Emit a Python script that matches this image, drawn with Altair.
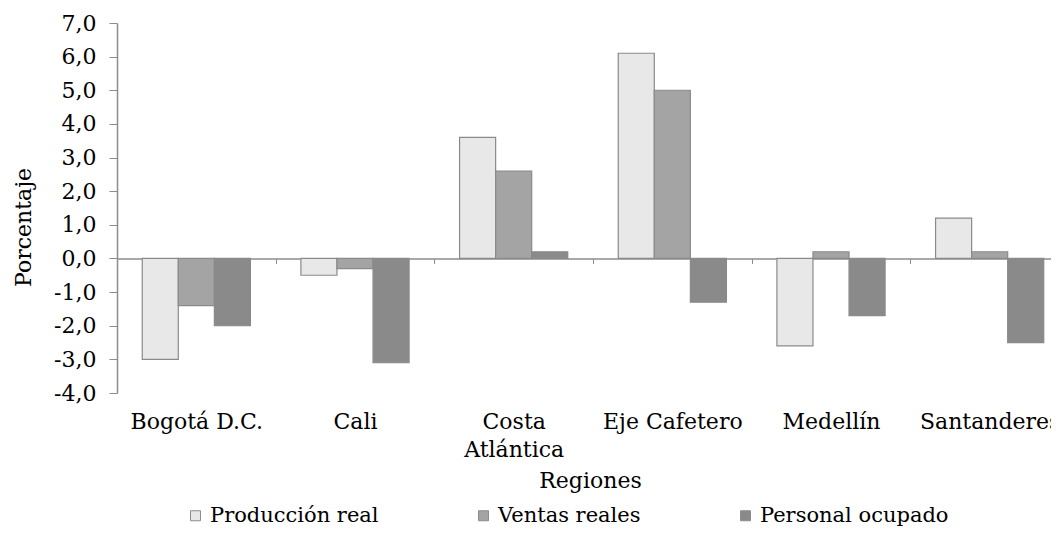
import altair as alt
import pandas as pd

regions = ["Bogotá D.C.", "Cali", "Costa Atlántica", "Eje Cafetero", "Medellín", "Santanderes"]
series = ["Producción real", "Ventas reales", "Personal ocupado"]
produccion_real = [-3.0, -0.5, 3.6, 6.1, -2.6, 1.2]
ventas_reales = [-1.4, -0.3, 2.6, 5.0, 0.2, 0.2]
personal_ocupado = [-2.0, -3.1, 0.2, -1.3, -1.7, -2.5]
y_ticks = [-4, -3, -2, -1, 0, 1, 2, 3, 4, 5, 6, 7]
colors = ["#e8e8e8", "#a4a4a4", "#8a8a8a"]

rows = []
for name, vals in zip(series, [produccion_real, ventas_reales, personal_ocupado]):
    for r, v in zip(regions, vals):
        rows.append({"Región": r, "Serie": name, "Valor": v})
df = pd.DataFrame(rows)

FONT = "DejaVu Serif"
H = 370
W = 952
zero_offset = -H * 4 / 11

bars = alt.Chart(df).mark_bar(stroke="#8a8a8a", strokeWidth=1.2).encode(
    x=alt.X("Región:N", sort=regions,
            scale=alt.Scale(paddingInner=0, paddingOuter=0),
            axis=alt.Axis(title="Regiones", orient="bottom", offset=zero_offset,
                          grid=False,
                          domainColor="#8c8c8c", domainWidth=1.5,
                          tickBand="extent", tickColor="#8c8c8c", tickSize=5,
                          labelAngle=0, labelPadding=148, labelFont=FONT,
                          labelFontSize=22, labelColor="#000000",
                          labelLineHeight=28, labelLimit=400,
                          labelExpr="datum.value == 'Costa Atlántica' ? ['Costa', 'Atlántica'] : datum.value",
                          titleFont=FONT, titleFontSize=22, titleFontWeight="normal",
                          titleColor="#000000", titleX=473, titleY=222,
                          titleBaseline="middle", titleAlign="center")),
    xOffset=alt.XOffset("Serie:N", sort=series,
                        scale=alt.Scale(paddingInner=0, paddingOuter=0.7)),
    y=alt.Y("Valor:Q", scale=alt.Scale(domain=[-4, 7], nice=False, zero=False),
            axis=alt.Axis(title="Porcentaje", values=y_ticks, grid=False,
                          domainColor="#8c8c8c", domainWidth=1.5,
                          tickColor="#8c8c8c", tickSize=8, labelPadding=13,
                          labelFont=FONT, labelFontSize=22, labelColor="#000000",
                          labelExpr="replace(replace(format(datum.value, '.1f'), '.', ','), '\u2212', '-')",
                          titleFont=FONT, titleFontSize=22, titleFontWeight="normal",
                          titleColor="#000000", titleAngle=270, titleX=-94, titleY=204,
                          titleAlign="center", titleBaseline="middle")),
    color=alt.Color("Serie:N", sort=series,
                    scale=alt.Scale(domain=series, range=colors),
                    legend=alt.Legend(title=None, orient="none", legendX=68, legendY=482,
                                      direction="horizontal", columns=3, columnPadding=94,
                                      padding=0, symbolType="square", symbolSize=100,
                                      symbolStrokeColor="#8c8c8c", symbolStrokeWidth=1,
                                      labelFont=FONT, labelFontSize=21, labelColor="#000000",
                                      labelOffset=4, labelLimit=400)),
)

chart = bars.properties(
    width=W, height=H,
    autosize="none",
    padding={"left": 109, "top": 15, "right": -18, "bottom": 135},
).configure(background="white").configure_view(strokeWidth=0)

chart.save("out.html", embed_options={"renderer": "svg", "actions": False})
